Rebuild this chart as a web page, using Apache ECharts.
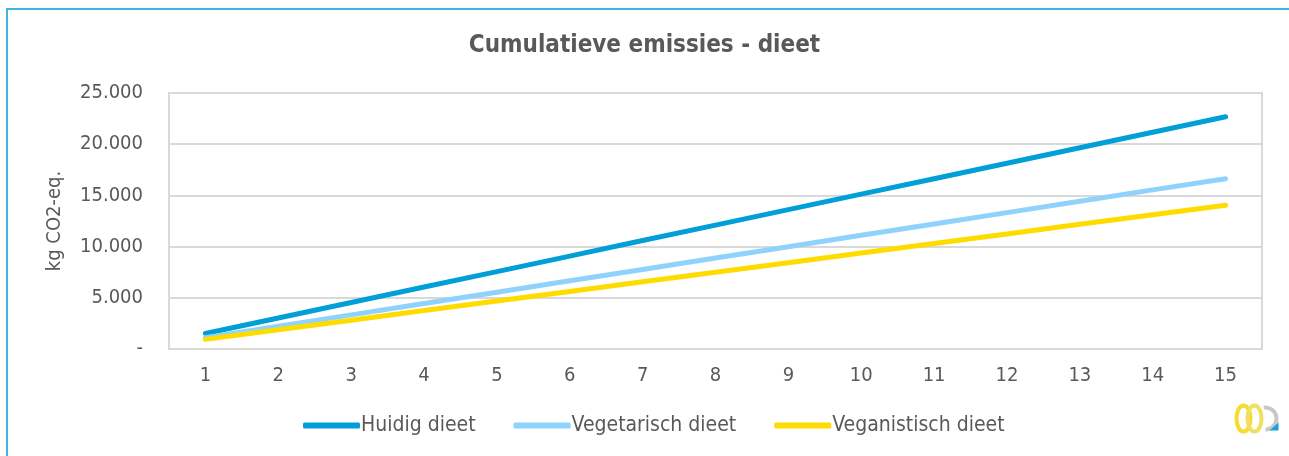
<!DOCTYPE html>
<html>
<head>
<meta charset="utf-8">
<script src="https://cdn.jsdelivr.net/npm/echarts@6/dist/echarts.min.js"></script>
<style>
  html, body { margin: 0; padding: 0; background: #fff; }
  #chart { width: 1289px; height: 456px; }
</style>
</head>
<body>
<div id="chart"></div>
<script>
// jaren 1 t/m 15
var years = ['1','2','3','4','5','6','7','8','9','10','11','12','13','14','15'];
var yTickLabels = ['-','5.000','10.000','15.000','20.000','25.000'];
var seriesNames = ['Huidig dieet','Vegetarisch dieet','Veganistisch dieet'];
var huidig = [1520,3030,4540,6050,7560,9070,10590,12100,13610,15120,16630,18140,19660,21170,22680];
var vegetarisch = [1110,2220,3330,4440,5550,6660,7770,8880,9990,11100,12210,13320,14430,15540,16630];
var veganistisch = [940,1870,2810,3750,4680,5620,6560,7490,8430,9370,10300,11240,12180,13110,14040];
var colors = ['#009FD8','#8FD3FD','#FFDC00'];

var font = "'DejaVu Sans Condensed', 'DejaVu Sans', sans-serif";
var chart = echarts.init(document.getElementById('chart'));

function line(name, data, color){
  return {
    name: name,
    type: 'line',
    data: data,
    symbol: 'none',
    smooth: false,
    lineStyle: { width: 5, color: color, cap: 'round' },
    itemStyle: { color: color },
    emphasis: { disabled: true }
  };
}

var option = {
  animation: false,
  backgroundColor: '#fff',
  textStyle: { fontFamily: font },
  title: {
    text: 'Cumulatieve emissies - dieet',
    left: 'center',
    top: 29,
    textStyle: { fontFamily: font, fontSize: 24, fontWeight: 'bold', color: '#595959' }
  },
  legend: {
    bottom: 15,
    left: 298,
    itemGap: 38,
    itemWidth: 57,
    itemHeight: 6,
    icon: 'roundRect',
    data: seriesNames,
    textStyle: { fontFamily: font, fontSize: 21, color: '#595959', padding: [0,0,0,-4] }
  },
  grid: {
    left: 169, right: 27, top: 93, bottom: 107,
    show: true, borderColor: '#D9D9D9', borderWidth: 2
  },
  xAxis: {
    type: 'category',
    data: years,
    boundaryGap: true,
    axisLine: { show: false },
    axisTick: { show: false },
    axisLabel: { fontFamily: font, fontSize: 20, color: '#595959', margin: 17 }
  },
  yAxis: {
    type: 'value',
    min: 0, max: 25000, interval: 5000,
    name: 'kg CO2-eq.',
    nameLocation: 'middle',
    nameGap: 104,
    nameTextStyle: { fontFamily: font, fontSize: 20, color: '#595959' },
    axisLine: { show: false },
    axisTick: { show: false },
    splitLine: { lineStyle: { color: '#D9D9D9', width: 2 } },
    axisLabel: {
      fontFamily: font, fontSize: 20, color: '#595959', margin: 26,
      formatter: function(v, i){ return yTickLabels[i]; }
    }
  },
  series: [
    line(seriesNames[0], huidig, colors[0]),
    line(seriesNames[1], vegetarisch, colors[1]),
    line(seriesNames[2], veganistisch, colors[2])
  ],
  graphic: [
    { type: 'polyline', shape: { points: [[7,460],[7,9],[1295,9]] },
      style: { stroke: '#3FB4E5', lineWidth: 2, fill: null } },
    // logo rechtsonder
    { type: 'group', left: 1234, top: 403, children: [
      { type: 'ellipse', shape: { cx: 10, cy: 16, rx: 7, ry: 13 },
        style: { fill: null, stroke: '#F5DC2E', lineWidth: 4 } },
      { type: 'ellipse', shape: { cx: 21, cy: 16, rx: 7, ry: 13 },
        style: { fill: null, stroke: '#F0E060', lineWidth: 4 } },
      { type: 'arc', shape: { cx: 32, cy: 16, r: 11, startAngle: -Math.PI*0.55, endAngle: Math.PI*0.5 },
        style: { fill: null, stroke: '#C8C8C8', lineWidth: 4 } },
      { type: 'polygon', shape: { points: [[36,28],[45,28],[45,20]] },
        style: { fill: '#1A9FD8' } }
    ]}
  ]
};
chart.setOption(option);
</script>
</body>
</html>
